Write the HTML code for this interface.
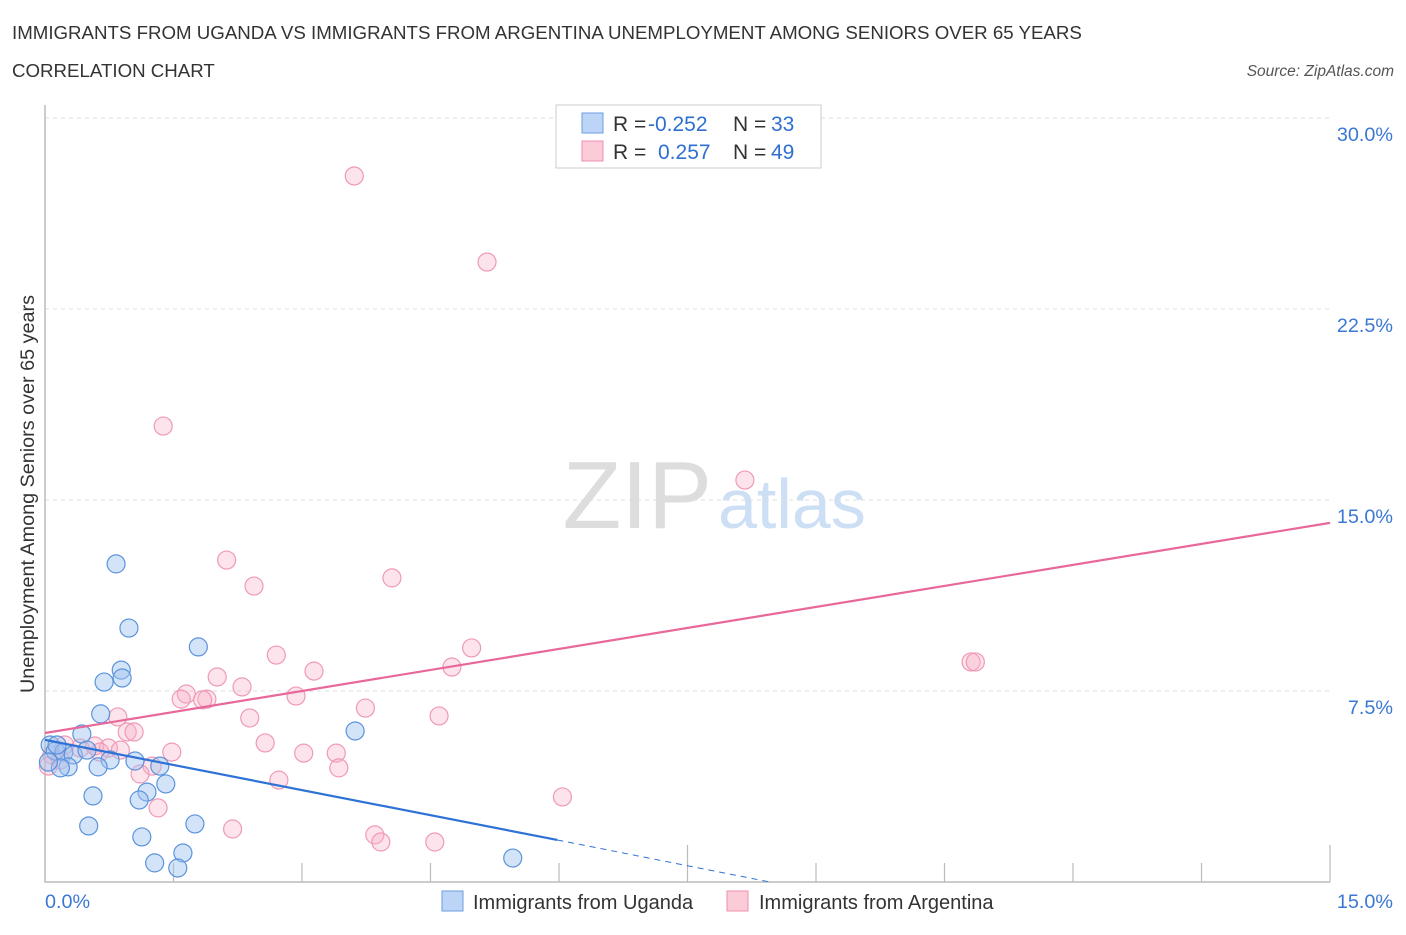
<!DOCTYPE html>
<html><head><meta charset="utf-8"><style>
body{margin:0;background:#fff;font-family:"Liberation Sans",sans-serif}
svg text{font-family:"Liberation Sans",sans-serif}
</style></head><body>
<svg width="1406" height="930">
<text x="12" y="39" font-size="18.7" fill="#333">IMMIGRANTS FROM UGANDA VS IMMIGRANTS FROM ARGENTINA UNEMPLOYMENT AMONG SENIORS OVER 65 YEARS</text>
<text x="12" y="77" font-size="18.7" fill="#333">CORRELATION CHART</text>
<text x="1394" y="76" font-size="15.5" fill="#555" text-anchor="end" font-style="italic">Source: ZipAtlas.com</text>
<text x="712" y="528" font-size="96" fill="#ddd" text-anchor="end" font-family="Liberation Serif">ZIP</text>
<text x="718" y="528" font-size="70" fill="#cddff5">atlas</text>
<g id="grid"></g>
<g id="axes"></g>
<g id="pts"></g>
<g id="lines"></g>
<text transform="translate(34,494) rotate(-90)" font-size="19.8" fill="#333" text-anchor="middle">Unemployment Among Seniors over 65 years</text>
<g>
<rect x="556" y="105" width="265" height="63" fill="#fff" stroke="#ccc"/>
<rect x="582" y="113" width="21" height="20" fill="#bcd4f6" stroke="#6b9ee0"/>
<rect x="582" y="141" width="21" height="20" fill="#fbcbd8" stroke="#ec8fae"/>
<text x="613" y="131" font-size="21" fill="#333">R = </text><text x="648" y="131" font-size="21" fill="#2e6fd0">-0.252</text>
<text x="733" y="131" font-size="21" fill="#333">N = </text><text x="771" y="131" font-size="21" fill="#2e6fd0">33</text>
<text x="613" y="159" font-size="21" fill="#333">R = </text><text x="658" y="159" font-size="21" fill="#2e6fd0">0.257</text>
<text x="733" y="159" font-size="21" fill="#333">N = </text><text x="771" y="159" font-size="21" fill="#2e6fd0">49</text>
</g>
<g>
<rect x="442" y="891" width="21" height="20" fill="#bcd4f6" stroke="#6b9ee0"/>
<text x="473" y="909" font-size="20" fill="#333">Immigrants from Uganda</text>
<rect x="727" y="891" width="21" height="20" fill="#fbcbd8" stroke="#ec8fae"/>
<text x="759" y="909" font-size="20" fill="#333">Immigrants from Argentina</text>
</g>
</svg>
<script>
const yTicks=[7.5,15,22.5,30];
const yTickLabels=["7.5%","15.0%","22.5%","30.0%"];
const xTickVals=[1.5,3,4.5,6,7.5,9,10.5,12,13.5,15];
const ugX=[0.83,0.98,1.79,0.89,0.90,0.69,0.65,0.43,3.62,0.06,0.12,0.22,0.33,0.49,0.76,1.05,1.34,0.62,0.27,0.18,1.41,1.19,0.56,1.10,0.51,1.75,1.13,1.61,1.28,1.55,5.46,0.04,0.14];
const ugY=[12.49,9.97,9.23,8.32,8.01,7.85,6.60,5.81,5.93,5.38,5.14,5.10,4.99,5.18,4.79,4.75,4.55,4.52,4.52,4.48,3.85,3.53,3.38,3.22,2.20,2.28,1.77,1.14,0.75,0.55,0.94,4.71,5.38];
const arX=[3.61,5.16,1.38,8.17,2.12,2.44,4.05,4.98,2.70,3.14,4.75,2.01,1.65,1.59,1.89,1.84,2.30,2.93,0.85,2.39,3.74,4.60,0.96,1.04,2.57,1.48,3.02,3.40,1.25,1.11,3.43,2.73,1.32,2.19,3.85,3.92,4.55,6.04,10.81,10.86,0.08,0.18,0.41,0.58,0.74,0.88,0.04,0.23,0.64];
const arY=[27.72,24.34,17.90,15.78,12.64,11.62,11.94,9.19,8.91,8.28,8.44,8.05,7.38,7.18,7.18,7.15,7.66,7.30,6.48,6.44,6.83,6.52,5.89,5.89,5.46,5.10,5.06,5.06,4.55,4.24,4.48,4.00,2.91,2.08,1.85,1.57,1.57,3.34,8.64,8.64,4.99,4.79,5.26,5.34,5.26,5.18,4.55,5.38,5.10];
const ugTrend=[[0,5.58],[5.98,1.65],[8.46,0]];
const arTrend=[[0,5.85],[15,14.1]];
const X=v=>45+v/15*1285, Y=v=>882-v*25.47;
const NS="http://www.w3.org/2000/svg";
function mk(t,a,p){const e=document.createElementNS(NS,t);for(const k in a)e.setAttribute(k,a[k]);p.appendChild(e);return e;}
const grid=document.getElementById('grid'),axes=document.getElementById('axes');
yTicks.forEach((t,i)=>{
 const l=mk('line',{x1:45,x2:1330,y1:Y(t),y2:Y(t),stroke:'#ddd','stroke-dasharray':'4,4'},grid);
 
 
 const tx=mk('text',{x:1393,y:Y(t)+23,'font-size':19.8,fill:'#3a78d4','text-anchor':'end'},grid);
 tx.textContent=yTickLabels[i];
 
 
});
const ax=mk('path',{d:'M45,105V882H1330',stroke:'#bbb',fill:'none','stroke-width':1.5},axes);


xTickVals.forEach(t=>{
 const tall=(t===7.5||t===15);
 const l=mk('line',{x1:X(t),x2:X(t),y1:tall?845:863,y2:882,stroke:'#bbb','stroke-width':1.2},axes);
 
 
});
const x0=mk('text',{x:45,y:908,'font-size':19.8,fill:'#3a78d4'},axes);x0.textContent='0.0%';


const x1=mk('text',{x:1393,y:908,'font-size':19.8,fill:'#3a78d4','text-anchor':'end'},axes);x1.textContent='15.0%';


const pts=document.getElementById('pts');
arX.forEach((v,i)=>{
 const c=mk('circle',{cx:X(v),cy:Y(arY[i]),r:9,fill:'rgba(248,175,198,0.35)',stroke:'#ee9ab6','stroke-width':1.2},pts);
 
 
});
ugX.forEach((v,i)=>{
 const c=mk('circle',{cx:X(v),cy:Y(ugY[i]),r:9,fill:'rgba(160,195,240,0.45)',stroke:'#5b93dc','stroke-width':1.2},pts);
 
 
});
const lines=document.getElementById('lines');
const a=mk('line',{x1:X(arTrend[0][0]),y1:Y(arTrend[0][1]),x2:X(arTrend[1][0]),y2:Y(arTrend[1][1]),stroke:'#e8689a','stroke-width':2.2},lines);


const u=mk('line',{x1:X(ugTrend[0][0]),y1:Y(ugTrend[0][1]),x2:X(ugTrend[1][0]),y2:Y(ugTrend[1][1]),stroke:'#2f72d6','stroke-width':2.2},lines);


const ud=mk('line',{x1:X(ugTrend[1][0]),y1:Y(ugTrend[1][1]),x2:X(ugTrend[2][0]),y2:Y(ugTrend[2][1]),stroke:'#2f72d6','stroke-width':1,'stroke-dasharray':'6,5'},lines);


</script>
</body></html>
